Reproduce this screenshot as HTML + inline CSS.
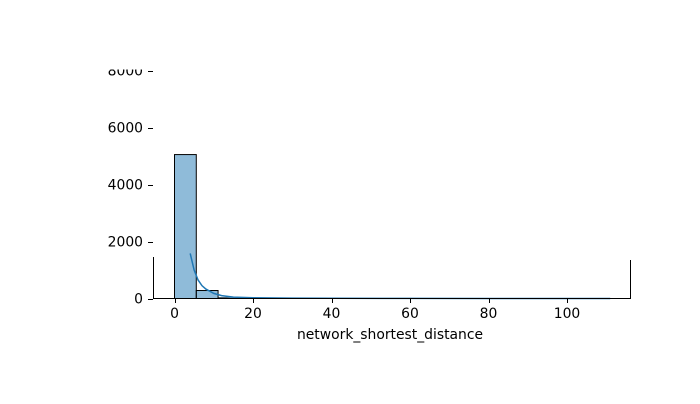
<!DOCTYPE html>
<html><head><meta charset="utf-8"><style>
body{margin:0;background:#fff;font-family:"DejaVu Sans",sans-serif}
text{font-family:"DejaVu Sans","Liberation Sans",sans-serif;font-size:13.9px;fill:#000}
</style></head><body>
<svg width="700" height="400" xmlns="http://www.w3.org/2000/svg">
<defs><clipPath id="c"><rect x="0" y="69.5" width="700" height="333"/></clipPath></defs>
<g id="plot" clip-path="url(#c)"></g>
<text x="390" y="339" text-anchor="middle">network_shortest_distance</text>
</svg>
<script>
const binEdgesStart = 0;
const binWidth = 5.55;
const counts = [5050, 280, 40, 20, 12, 8, 6, 4, 3, 2, 2, 1, 1, 1, 1, 1, 0, 0, 0, 1];
const kdeX = [4, 5, 6, 7, 8, 10, 12, 15, 20, 30, 40, 60, 80, 111];
const kdeY = [1580, 1000, 650, 450, 330, 180, 100, 50, 25, 15, 8, 4, 2, 1];
const xTicks = [0, 20, 40, 60, 80, 100];
const yTicks = [0, 2000, 4000, 6000, 8000];
const NS = "http://www.w3.org/2000/svg";
const xs = v => 174.5 + v * 3.925;
const ys = v => 298.5 - v * 0.0285;
const svg = document.querySelector('svg');
const g = document.getElementById('plot');
function mk(tag, attrs, parent) {
  const e = document.createElementNS(NS, tag);
  for (const k in attrs) e.setAttribute(k, attrs[k]);
  (parent || svg).appendChild(e);
  return e;
}
counts.forEach((c, i) => {
  const x0 = xs(binEdgesStart + i * binWidth), x1 = xs(binEdgesStart + (i + 1) * binWidth);
  const r = mk('rect', {x: x0, y: ys(c), width: x1 - x0, height: 298.5 - ys(c), fill: 'rgba(31,119,180,0.5)', stroke: '#000', 'stroke-width': c > 50 ? 1 : 0.5}, g);
  
  
});
const kde = mk('polyline', {points: kdeX.map((x, i) => xs(x) + ',' + ys(kdeY[i])).join(' '), fill: 'none', stroke: '#1f77b4', 'stroke-width': 1.5}, g);


const sp = [[153.5, 257, 153.5, 298.5], [630.5, 260, 630.5, 298.5], [153, 298.5, 631, 298.5]];
sp.forEach(s => {
  const l = mk('line', {x1: s[0], y1: s[1], x2: s[2], y2: s[3], stroke: '#000', 'stroke-width': 1});
  
  
});
xTicks.forEach(t => {
  mk('line', {x1: Math.round(xs(t)) + 0.5, y1: 298.5, x2: Math.round(xs(t)) + 0.5, y2: 303, stroke: '#000'});
  const tx = mk('text', {x: xs(t), y: 318, 'text-anchor': 'middle'});
  tx.textContent = t;
  
  
});
yTicks.forEach(t => {
  mk('line', {x1: 148, y1: Math.round(ys(t)) + 0.5, x2: 153, y2: Math.round(ys(t)) + 0.5, stroke: '#000'}, g);
  const tx = mk('text', {x: 143, y: ys(t) + 5, 'text-anchor': 'end'}, g);
  tx.textContent = t;
  
  
});
</script>
</body></html>
